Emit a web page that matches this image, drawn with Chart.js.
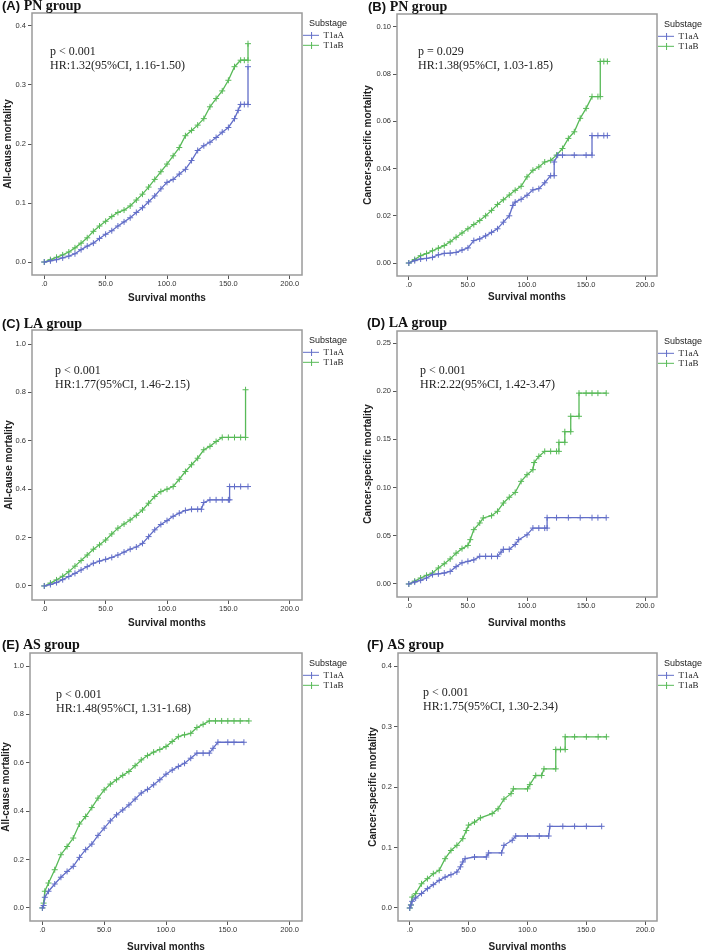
<!DOCTYPE html>
<html>
<head>
<meta charset="utf-8">
<title>All-cause and cancer-specific mortality by substage</title>
<script src="https://cdn.jsdelivr.net/npm/chart.js"></script>
<style>
  body { margin: 0; background: #fff; width: 709px; height: 950px; position: relative; overflow: hidden; }
  canvas { position: absolute; }
</style>
</head>
<body>
<canvas id="cA"></canvas>
<canvas id="cB"></canvas>
<canvas id="cC"></canvas>
<canvas id="cD"></canvas>
<canvas id="cE"></canvas>
<canvas id="cF"></canvas>
<script>
// ---- data (repeated month = vertical jump) ----
const substages = ['T1aA', 'T1aB'];
const xTickValues = [0, 50, 100, 150, 200];
const xTickLabels = ['.0', '50.0', '100.0', '150.0', '200.0'];

// (A) PN group, all-cause
const monthsA_T1aA = [0,5,10,15,20,25,30,35,40,45,50,55,60,65,70,75,80,85,90,95,100,105,110,115,120,125,130,135,140,145,150,155,158,160,163,166,166];
const mortA_T1aA  = [0,0.002,0.004,0.007,0.010,0.014,0.021,0.027,0.032,0.040,0.047,0.053,0.061,0.068,0.075,0.084,0.092,0.102,0.112,0.124,0.135,0.140,0.149,0.157,0.172,0.189,0.197,0.203,0.211,0.220,0.228,0.243,0.257,0.267,0.267,0.267,0.331];
const monthsA_T1aB = [0,5,10,15,20,25,30,35,40,45,50,55,60,65,70,75,80,85,90,95,100,105,110,115,120,125,130,135,140,145,150,155,160,163,166,166];
const mortA_T1aB  = [0,0.004,0.008,0.012,0.017,0.024,0.032,0.041,0.052,0.061,0.069,0.077,0.084,0.088,0.095,0.105,0.115,0.127,0.140,0.153,0.166,0.180,0.194,0.214,0.223,0.232,0.243,0.263,0.277,0.290,0.308,0.331,0.342,0.342,0.342,0.370];
const yTicksA = [0, 0.1, 0.2, 0.3, 0.4];

// (B) PN group, cancer-specific
const monthsB_T1aA = [0,5,10,15,20,25,30,35,40,45,50,55,60,65,70,75,80,85,88,90,95,100,105,110,115,120,123,123,126,130,140,150,155,155,160,165,168];
const mortB_T1aA  = [0,0.0010,0.0017,0.0020,0.0024,0.0035,0.0041,0.0042,0.0045,0.0055,0.0064,0.0095,0.0102,0.0115,0.0130,0.0145,0.0173,0.0200,0.0244,0.0258,0.0270,0.0287,0.0310,0.0315,0.0340,0.0370,0.0370,0.0428,0.0457,0.0457,0.0457,0.0457,0.0457,0.0540,0.0540,0.0540,0.0540];
const monthsB_T1aB = [0,5,10,15,20,25,30,35,40,45,50,55,60,65,70,75,80,85,90,95,100,105,110,115,120,125,130,135,140,145,150,155,160,162,162,165,168];
const mortB_T1aB  = [0,0.0015,0.0031,0.0040,0.0052,0.0063,0.0074,0.0090,0.0109,0.0127,0.0145,0.0163,0.0180,0.0200,0.0223,0.0248,0.0268,0.0288,0.0308,0.0325,0.0365,0.0393,0.0407,0.0428,0.0435,0.0457,0.0485,0.0528,0.0556,0.0613,0.0655,0.0705,0.0705,0.0705,0.0854,0.0854,0.0854];
const yTicksB = [0, 0.02, 0.04, 0.06, 0.08, 0.10];

// (C) LA group, all-cause
const monthsC_T1aA = [0,5,10,15,20,25,30,35,40,45,50,55,60,65,70,75,80,85,90,95,100,105,110,115,120,125,128,130,135,140,145,150,151,151,155,160,166];
const mortC_T1aA  = [0,0.006,0.014,0.026,0.039,0.052,0.066,0.080,0.094,0.103,0.110,0.118,0.128,0.140,0.152,0.161,0.176,0.204,0.232,0.254,0.270,0.288,0.301,0.312,0.317,0.317,0.317,0.345,0.356,0.356,0.356,0.356,0.356,0.411,0.411,0.411,0.411];
const monthsC_T1aB = [0,5,10,15,20,25,30,35,40,45,50,55,60,65,70,75,80,85,90,95,100,105,110,115,120,125,130,135,140,145,150,155,160,164,164];
const mortC_T1aB  = [0,0.012,0.025,0.040,0.059,0.082,0.105,0.128,0.152,0.170,0.190,0.215,0.239,0.256,0.273,0.292,0.314,0.342,0.370,0.390,0.400,0.411,0.441,0.473,0.501,0.528,0.563,0.577,0.597,0.614,0.614,0.614,0.614,0.614,0.811];
const yTicksC = [0, 0.2, 0.4, 0.6, 0.8, 1.0];

// (D) LA group, cancer-specific
const monthsD_T1aA = [0,5,10,15,20,25,30,35,40,45,50,55,60,65,70,75,78,80,85,90,93,100,105,110,115,117,117,125,135,145,155,160,167];
const mortD_T1aA  = [0,0.002,0.0038,0.0062,0.0097,0.0105,0.0114,0.013,0.018,0.022,0.0235,0.025,0.0287,0.0287,0.0287,0.0287,0.033,0.036,0.036,0.041,0.046,0.051,0.058,0.058,0.058,0.058,0.0688,0.0688,0.0688,0.0688,0.0688,0.0688,0.0688];
const monthsD_T1aB = [0,5,10,15,20,25,30,35,40,45,50,52,55,60,63,70,75,80,85,90,95,100,105,106,110,115,120,125,127,127,132,132,137,137,144,144,150,155,160,167];
const mortD_T1aB  = [0,0.003,0.0062,0.009,0.0114,0.0166,0.021,0.026,0.032,0.0367,0.040,0.046,0.0564,0.0633,0.0685,0.0709,0.0754,0.084,0.090,0.095,0.1065,0.1134,0.1186,0.126,0.1324,0.1376,0.1376,0.1376,0.1376,0.147,0.147,0.158,0.158,0.174,0.174,0.198,0.198,0.198,0.198,0.198];
const yTicksD = [0, 0.05, 0.10, 0.15, 0.20, 0.25];

// (E) AS group, all-cause
const monthsE_T1aA = [0,1,2,5,10,15,20,25,30,35,40,45,50,55,60,65,70,75,80,85,90,95,100,105,110,115,120,125,130,135,138,142,150,155,163];
const mortE_T1aA  = [0,0.010,0.044,0.069,0.099,0.127,0.151,0.172,0.209,0.241,0.264,0.300,0.330,0.360,0.385,0.405,0.426,0.450,0.475,0.490,0.509,0.530,0.553,0.570,0.585,0.598,0.619,0.640,0.640,0.640,0.660,0.685,0.685,0.685,0.685];
const monthsE_T1aB = [0,1,2,5,10,15,20,25,30,35,40,45,50,55,60,65,70,75,80,85,90,95,100,105,110,115,120,125,130,135,140,145,150,155,160,167];
const mortE_T1aB  = [0,0.020,0.069,0.103,0.158,0.220,0.254,0.289,0.347,0.378,0.415,0.454,0.488,0.512,0.530,0.548,0.564,0.588,0.612,0.630,0.644,0.655,0.667,0.688,0.708,0.716,0.722,0.746,0.759,0.773,0.773,0.773,0.773,0.773,0.773,0.773];
const yTicksE = [0, 0.2, 0.4, 0.6, 0.8, 1.0];

// (F) AS group, cancer-specific
const monthsF_T1aA = [0,1,2,5,10,15,20,25,30,35,40,43,45,47,55,65,67,78,80,87,90,100,110,118,119,130,140,150,163];
const mortF_T1aA  = [0,0.005,0.011,0.0165,0.024,0.032,0.0386,0.0457,0.051,0.055,0.0595,0.068,0.076,0.0815,0.0843,0.0843,0.091,0.091,0.1036,0.112,0.119,0.119,0.119,0.119,0.135,0.135,0.135,0.135,0.135];
const monthsF_T1aB = [0,1,2,5,10,15,20,25,30,35,40,45,48,50,55,60,70,75,80,86,88,100,102,107,112,114,124,124,128,132,132,140,150,160,167];
const mortF_T1aB  = [0,0.005,0.018,0.0237,0.040,0.0485,0.0567,0.0623,0.0815,0.095,0.1036,0.1146,0.128,0.137,0.142,0.149,0.156,0.164,0.180,0.189,0.197,0.197,0.204,0.219,0.219,0.230,0.230,0.262,0.262,0.262,0.283,0.283,0.283,0.283,0.283];
const yTicksF = [0, 0.1, 0.2, 0.3, 0.4];

// ---- styling / layout ----
const BLUE = 'rgb(98,110,200)';
const GREEN = 'rgb(88,186,88)';
const SANS = '"Liberation Sans", Arial, sans-serif';
const SERIF = '"Liberation Serif", "Times New Roman", serif';

function legendMark(color) {
  const c = document.createElement('canvas');
  c.width = 16; c.height = 7;
  const g = c.getContext('2d');
  g.strokeStyle = color; g.lineWidth = 1;
  g.beginPath();
  g.moveTo(0, 3.5); g.lineTo(16, 3.5);
  g.moveTo(8.5, 0); g.lineTo(8.5, 7);
  g.stroke();
  return c;
}

const decor = {
  id: 'decor',
  afterDraw(chart, args, o) {
    const { ctx, chartArea: a } = chart;
    ctx.save();
    ctx.strokeStyle = '#9a9a9a';
    ctx.lineWidth = 1.5;
    ctx.strokeRect(a.left, a.top, a.right - a.left, a.bottom - a.top);

    ctx.fillStyle = '#111';
    ctx.textAlign = 'left';
    ctx.textBaseline = 'alphabetic';
    ctx.font = 'bold 13px ' + SANS;
    const tag = o.tag + ' ';
    ctx.fillText(tag, o.titleX, o.titleY);
    const w = ctx.measureText(tag).width;
    ctx.font = 'bold 14px ' + SERIF;
    ctx.fillText(o.group, o.titleX + w, o.titleY);

    ctx.fillStyle = '#222';
    ctx.font = '12px ' + SERIF;
    ctx.textBaseline = 'middle';
    o.note.forEach((s, i) => ctx.fillText(s, a.left + o.noteDx, a.top + o.noteDy + i * 14));
    ctx.restore();
  }
};

function series(months, mort) {
  return months.map((m, i) => ({ x: m, y: mort[i] }));
}

function panel(p) {
  const cv = document.getElementById(p.id);
  cv.style.left = p.x + 'px';
  cv.style.top = p.y + 'px';
  cv.style.width = p.w + 'px';
  cv.style.height = p.h + 'px';
  cv.width = p.w; cv.height = p.h;

  const mkSet = (label, data, color) => ({
    label, data,
    borderColor: color, backgroundColor: color,
    borderWidth: 1.3, tension: 0,
    pointStyle: 'cross', pointRadius: 3, pointBorderWidth: 1,
    pointBorderColor: color
  });

  new Chart(cv, {
    type: 'line',
    data: {
      datasets: [
        mkSet(substages[0], p.a, BLUE),
        mkSet(substages[1], p.b, GREEN)
      ]
    },
    options: {
      responsive: false,
      animation: false,
      layout: { padding: { top: p.padTop, right: 0, left: 0, bottom: 0 } },
      plugins: {
        tooltip: { enabled: false },
        legend: {
          position: 'right',
          align: 'start',
          title: { display: true, text: 'Substage', color: '#222', font: { family: SANS, size: 9 }, padding: { top: 6, bottom: 0 } },
          labels: {
            usePointStyle: true,
            pointStyleWidth: 16,
            padding: 1,
            color: '#222',
            font: { family: SERIF, size: 9 },
            generateLabels: chart => chart.data.datasets.map((d, i) => ({
              text: d.label,
              pointStyle: legendMark(d.borderColor),
              fillStyle: d.borderColor,
              strokeStyle: d.borderColor,
              lineWidth: 0,
              datasetIndex: i,
              fontColor: '#222'
            }))
          }
        },
        decor: p.decor
      },
      scales: {
        x: {
          type: 'linear', min: -10, max: 210,
          border: { display: false },
          grid: { drawOnChartArea: false, drawTicks: true, tickLength: 4, color: '#555' },
          afterBuildTicks: s => { s.ticks = xTickValues.map(v => ({ value: v })); },
          afterFit: s => { s.height = p.xH; },
          ticks: {
            padding: 0, color: '#333', font: { family: SANS, size: 7.5 },
            callback: v => xTickLabels[xTickValues.indexOf(v)]
          },
          title: { display: true, text: 'Survival months', color: '#222', font: { family: SANS, size: 10, weight: 'bold' }, padding: { top: 0, bottom: p.xTitlePad } }
        },
        y: {
          type: 'linear', min: p.yMin, max: p.yMax,
          border: { display: false },
          grid: { drawOnChartArea: false, drawTicks: true, tickLength: 4, color: '#555' },
          afterBuildTicks: s => { s.ticks = p.yTicks.map(v => ({ value: v })); },
          afterFit: s => { s.width = p.yW; },
          ticks: {
            padding: 2, color: '#333', font: { family: SANS, size: 7.5 },
            callback: v => v.toFixed(p.dec)
          },
          title: { display: true, text: p.yTitle, color: '#222', font: { family: SANS, size: 10, weight: 'bold' }, padding: { top: p.yTitlePad, bottom: 0 } }
        }
      }
    },
    plugins: [decor]
  });
}

panel({ id: 'cA', x: 0, y: 0, w: 354, h: 310, padTop: 13, yW: 32, xH: 35, xTitlePad: 6, yTitlePad: 2,
  yMin: -0.022, yMax: 0.422, yTicks: yTicksA, dec: 1, yTitle: 'All-cause mortality',
  a: series(monthsA_T1aA, mortA_T1aA), b: series(monthsA_T1aB, mortA_T1aB),
  decor: { tag: '(A)', group: 'PN group', titleX: 2, titleY: 10, noteDx: 18, noteDy: 39,
    note: ['p < 0.001', 'HR:1.32(95%CI, 1.16-1.50)'] } });

panel({ id: 'cB', x: 355, y: 0, w: 354, h: 310, padTop: 14, yW: 42, xH: 34, xTitlePad: 7, yTitlePad: 7,
  yMin: -0.0055, yMax: 0.1055, yTicks: yTicksB, dec: 2, yTitle: 'Cancer-specific mortality',
  a: series(monthsB_T1aA, mortB_T1aA), b: series(monthsB_T1aB, mortB_T1aB),
  decor: { tag: '(B)', group: 'PN group', titleX: 13, titleY: 11, noteDx: 21, noteDy: 38,
    note: ['p = 0.029', 'HR:1.38(95%CI, 1.03-1.85)'] } });

panel({ id: 'cC', x: 0, y: 310, w: 354, h: 325, padTop: 20, yW: 32, xH: 35, xTitlePad: 6, yTitlePad: 3,
  yMin: -0.058, yMax: 1.058, yTicks: yTicksC, dec: 1, yTitle: 'All-cause mortality',
  a: series(monthsC_T1aA, mortC_T1aA), b: series(monthsC_T1aB, mortC_T1aB),
  decor: { tag: '(C)', group: 'LA group', titleX: 2, titleY: 18, noteDx: 23, noteDy: 41,
    note: ['p < 0.001', 'HR:1.77(95%CI, 1.46-2.15)'] } });

panel({ id: 'cD', x: 355, y: 310, w: 354, h: 325, padTop: 21, yW: 42, xH: 38, xTitlePad: 6, yTitlePad: 7,
  yMin: -0.0135, yMax: 0.2625, yTicks: yTicksD, dec: 2, yTitle: 'Cancer-specific mortality',
  a: series(monthsD_T1aA, mortD_T1aA), b: series(monthsD_T1aB, mortD_T1aB),
  decor: { tag: '(D)', group: 'LA group', titleX: 12, titleY: 17, noteDx: 23, noteDy: 40,
    note: ['p < 0.001', 'HR:2.22(95%CI, 1.42-3.47)'] } });

panel({ id: 'cE', x: 0, y: 625, w: 354, h: 325, padTop: 28, yW: 30, xH: 29, xTitlePad: -3, yTitlePad: 0,
  yMin: -0.054, yMax: 1.054, yTicks: yTicksE, dec: 1, yTitle: 'All-cause mortality',
  a: series(monthsE_T1aA, mortE_T1aA), b: series(monthsE_T1aB, mortE_T1aB),
  decor: { tag: '(E)', group: 'AS group', titleX: 2, titleY: 24, noteDx: 26, noteDy: 42,
    note: ['p < 0.001', 'HR:1.48(95%CI, 1.31-1.68)'] } });

panel({ id: 'cF', x: 355, y: 625, w: 354, h: 325, padTop: 28, yW: 43, xH: 29, xTitlePad: -3, yTitlePad: 12,
  yMin: -0.0215, yMax: 0.4215, yTicks: yTicksF, dec: 1, yTitle: 'Cancer-specific mortality',
  a: series(monthsF_T1aA, mortF_T1aA), b: series(monthsF_T1aB, mortF_T1aB),
  decor: { tag: '(F)', group: 'AS group', titleX: 12, titleY: 24, noteDx: 25, noteDy: 40,
    note: ['p < 0.001', 'HR:1.75(95%CI, 1.30-2.34)'] } });
</script>
</body>
</html>
